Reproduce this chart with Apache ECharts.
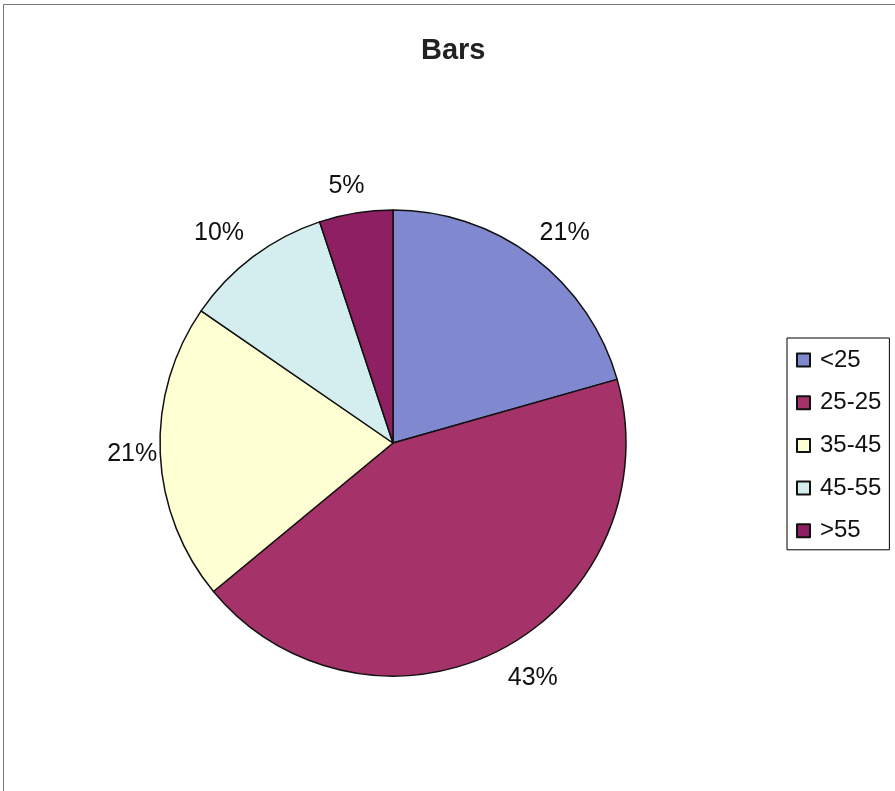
<!DOCTYPE html>
<html>
<head>
<meta charset="utf-8">
<script src="https://cdn.jsdelivr.net/npm/echarts@6/dist/echarts.min.js"></script>
<style>
html, body { margin: 0; padding: 0; background: #fff; }
#chart { width: 895px; height: 791px; }
</style>
</head>
<body>
<div id="chart"></div>
<script>
// age groups and their shares
const categories = ['<25', '25-25', '35-45', '45-55', '>55'];
const shares = [20.6, 43.4, 20.6, 10.3, 5.1];
const colors = ['#8088CF', '#A5336A', '#FFFFD4', '#D4EEF0', '#8E1F62'];

// label placement per slice (Excel puts them just off the rim, no leader lines)
const lineLen = [30, 33, 28, 30, 27];
const lineLen2 = [13, 16, 0, 16, 5];
const halfLabel = [25, 25, 25, 25, 18];

const FONT = 'Liberation Sans, Arial, sans-serif';

const chart = echarts.init(document.getElementById('chart'));

chart.setOption({
    animation: false,
    backgroundColor: '#fff',
    title: {
        text: 'Bars',
        left: 416,
        top: 31,
        textStyle: {
            fontFamily: FONT,
            fontSize: 29,
            fontWeight: 'bold',
            color: '#222'
        }
    },
    graphic: [{
        type: 'rect',
        shape: { x: 3.5, y: 4.5, width: 960, height: 860 },
        style: { fill: 'none', stroke: '#777', lineWidth: 1 },
        silent: true
    }],
    legend: {
        orient: 'vertical',
        left: 787,
        top: 338,
        padding: [10, 8, 7, 9],
        itemGap: 18.7,
        itemWidth: 13,
        itemHeight: 13,
        icon: 'rect',
        borderColor: '#000',
        borderWidth: 1,
        backgroundColor: '#fff',
        data: categories,
        textStyle: {
            fontFamily: FONT,
            fontSize: 24,
            color: '#111',
            padding: [0, 0, 0, 5]
        }
    },
    series: [{
        type: 'pie',
        center: [393, 443],
        radius: 233,
        startAngle: 90,
        clockwise: true,
        percentPrecision: 0,
        avoidLabelOverlap: false,
        itemStyle: { borderColor: '#111', borderWidth: 1.5 },
        label: {
            position: 'outside',
            formatter: '{d}%',
            fontFamily: FONT,
            fontSize: 25,
            color: '#111'
        },
        labelLine: { show: false },
        emphasis: { disabled: true },
        data: categories.map((name, i) => ({
            name: name,
            value: shares[i],
            itemStyle: { color: colors[i] },
            label: { distanceToLabelLine: -halfLabel[i] },
            labelLine: { show: false, length: lineLen[i], length2: lineLen2[i] }
        }))
    }]
});
</script>
</body>
</html>
